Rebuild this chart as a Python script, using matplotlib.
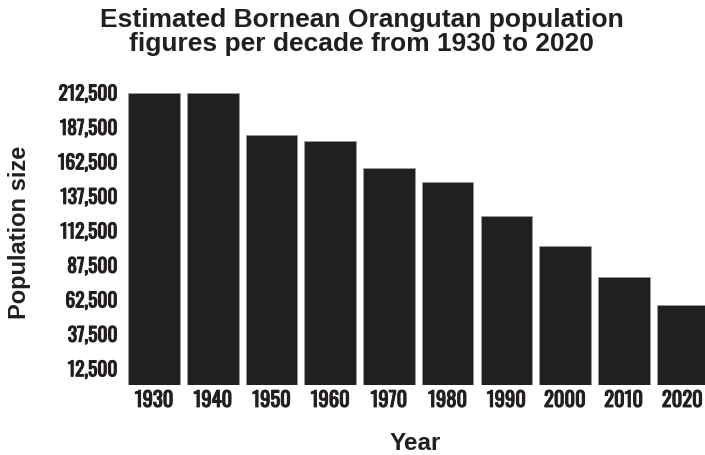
import matplotlib
matplotlib.use('Agg')
import matplotlib.pyplot as plt
import matplotlib.patheffects as pe
from matplotlib.ticker import FuncFormatter

years = ['1930', '1940', '1950', '1960', '1970', '1980', '1990', '2000', '2010', '2020']
population = [212000, 212000, 181000, 177000, 157000, 147000, 122500, 101000, 78500, 58000]
y_ticks = [12500, 37500, 62500, 87500, 112500, 137500, 162500, 187500, 212500]

bar_color = '#221f20'
narrow = ['Oswald', 'Barlow Condensed', 'Roboto Condensed', 'DejaVu Sans']
plt.rcParams['font.family'] = ['Liberation Sans', 'DejaVu Sans']

fig = plt.figure(figsize=(7.05, 4.55), dpi=100)
ax = fig.add_axes([0.177, 0.1538, 0.823, 0.652])

x = range(len(years))
ax.bar(x, population, width=0.88, color=bar_color, edgecolor='#9a9899', linewidth=0.6)

ax.set_xlim(-0.5, 9.384)
ax.set_ylim(0, 215000)
ax.set_xticks(list(x))
ax.set_xticklabels(years)
ax.set_yticks(y_ticks)
ax.yaxis.set_major_formatter(FuncFormatter(lambda v, p: '{:,.0f}'.format(v)))

# Oswald only ships a light-ish weight here, so thicken the strokes a bit
heavy = [pe.withStroke(linewidth=0.8, foreground='#231f20')]
for lab in ax.get_yticklabels():
    lab.set_family(narrow)
    lab.set_fontweight('bold')
    lab.set_fontsize(14)
    lab.set_color('#231f20')
    lab.set_path_effects(heavy)
for lab in ax.get_xticklabels():
    lab.set_family(narrow)
    lab.set_fontweight('bold')
    lab.set_fontsize(14.8)
    lab.set_color('#231f20')
    lab.set_path_effects(heavy)

ax.tick_params(axis='both', length=0)
ax.tick_params(axis='y', pad=5.5)
ax.tick_params(axis='x', pad=3.5)
for s in ax.spines.values():
    s.set_visible(False)

ax.set_xlabel('Year', fontsize=17.5, fontweight='bold', color='#231f20', labelpad=16)
fig.text(0.027, 0.49, 'Population size', rotation=90, fontsize=17, fontweight='bold',
         color='#231f20', ha='center', va='center')

fig.suptitle('Estimated Bornean Orangutan population\nfigures per decade from 1930 to 2020',
             x=0.513, y=0.983, fontsize=19, fontweight='bold', color='#231f20',
             linespacing=1.0, va='top')

fig.savefig('out.png', dpi=100)
